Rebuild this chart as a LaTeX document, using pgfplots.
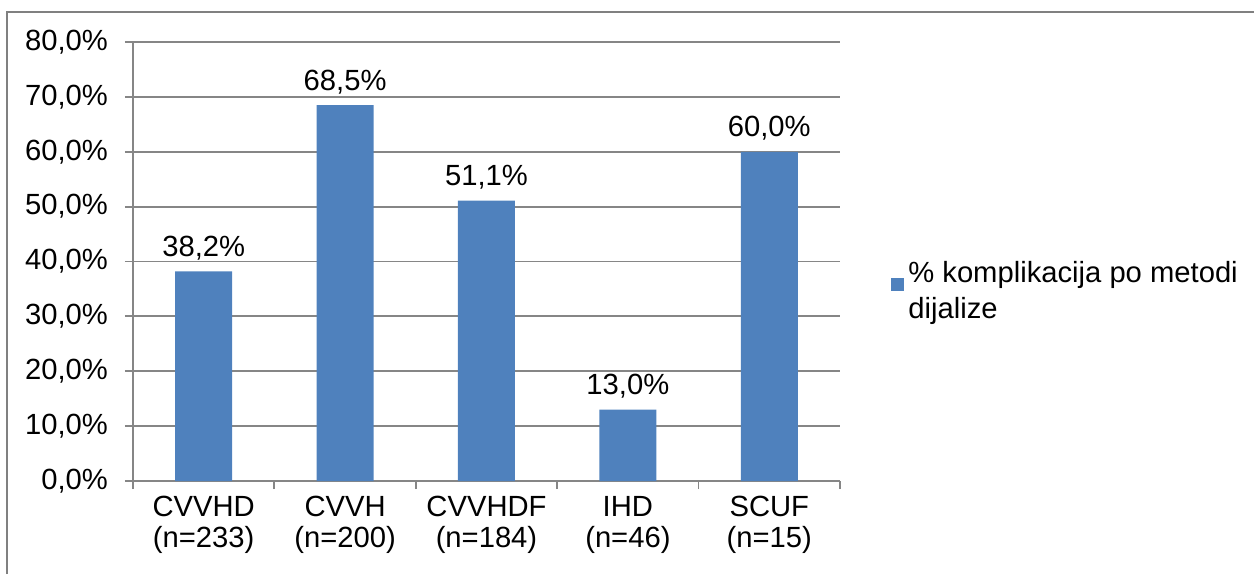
\documentclass[border=0pt]{standalone}
\usepackage{pgfplots}
\pgfplotsset{compat=1.18}
\usepackage{fontspec}
\setmainfont{Liberation Sans}

\definecolor{barblue}{RGB}{79,129,189}
\definecolor{gridgray}{RGB}{134,134,134}
\definecolor{framegray}{RGB}{128,128,128}

\begin{document}
\begin{tikzpicture}
\path[use as bounding box] (-66.5pt,-46.5pt) rectangle (560.5pt,240.5pt);
% Rahmen (nur links und oben sichtbar)
\draw[framegray, line width=1.2pt] (-63pt,-46.5pt) -- (-63pt,234.5pt) -- (560.5pt,234.5pt);
\begin{axis}[
  at={(0,0)}, anchor=south west,
  scale only axis,
  width=353.5pt, height=219.5pt,
  ybar, bar width=28.5pt,
  xmin=-0.5, xmax=4.5,
  ymin=0, ymax=80,
  ytick={0,10,...,80},
  xtick={-0.5,0.5,...,4.5},
  x tick label as interval,
  xticklabels={{CVVHD\\(n=233)},{CVVH\\(n=200)},{CVVHDF\\(n=184)},{IHD\\(n=46)},{SCUF\\(n=15)}},
  axis lines*=left,
  axis line style={gridgray, line width=0.9pt},
  tick style={gridgray, line width=0.9pt},
  tick align=outside,
  major tick length=4pt,
  ymajorgrids,
  grid style={gridgray, line width=0.9pt},
  /pgf/number format/assume math mode=true,
  yticklabel={\pgfmathprintnumber[fixed,fixed zerofill,precision=1,use comma]{\tick}\%},
  tick label style={font=\fontsize{14.6}{15.5}\selectfont, black},
  yticklabel style={xshift=-5pt},
  xticklabel style={align=center},
  nodes near coords={\pgfmathprintnumber[fixed,fixed zerofill,precision=1,use comma]{\pgfplotspointmeta}\%},
  every node near coord/.append style={font=\fontsize{14.6}{16}\selectfont, black, yshift=2pt},
  legend style={draw=none, fill=none, at={(1.0636,0.432)}, anchor=west,
    font=\fontsize{14.6}{16}\selectfont, cells={anchor=west, align=left}},
  legend image code/.code={\fill[barblue] (-1pt,0pt) rectangle (5.5pt,6.5pt);},
]
\addplot[fill=barblue, draw=none] coordinates {
  (0,38.2) (1,68.5) (2,51.1) (3,13.0) (4,60.0)
};
\legend{{\% komplikacija po metodi\\[2pt]dijalize}}
\end{axis}
\end{tikzpicture}
\end{document}
